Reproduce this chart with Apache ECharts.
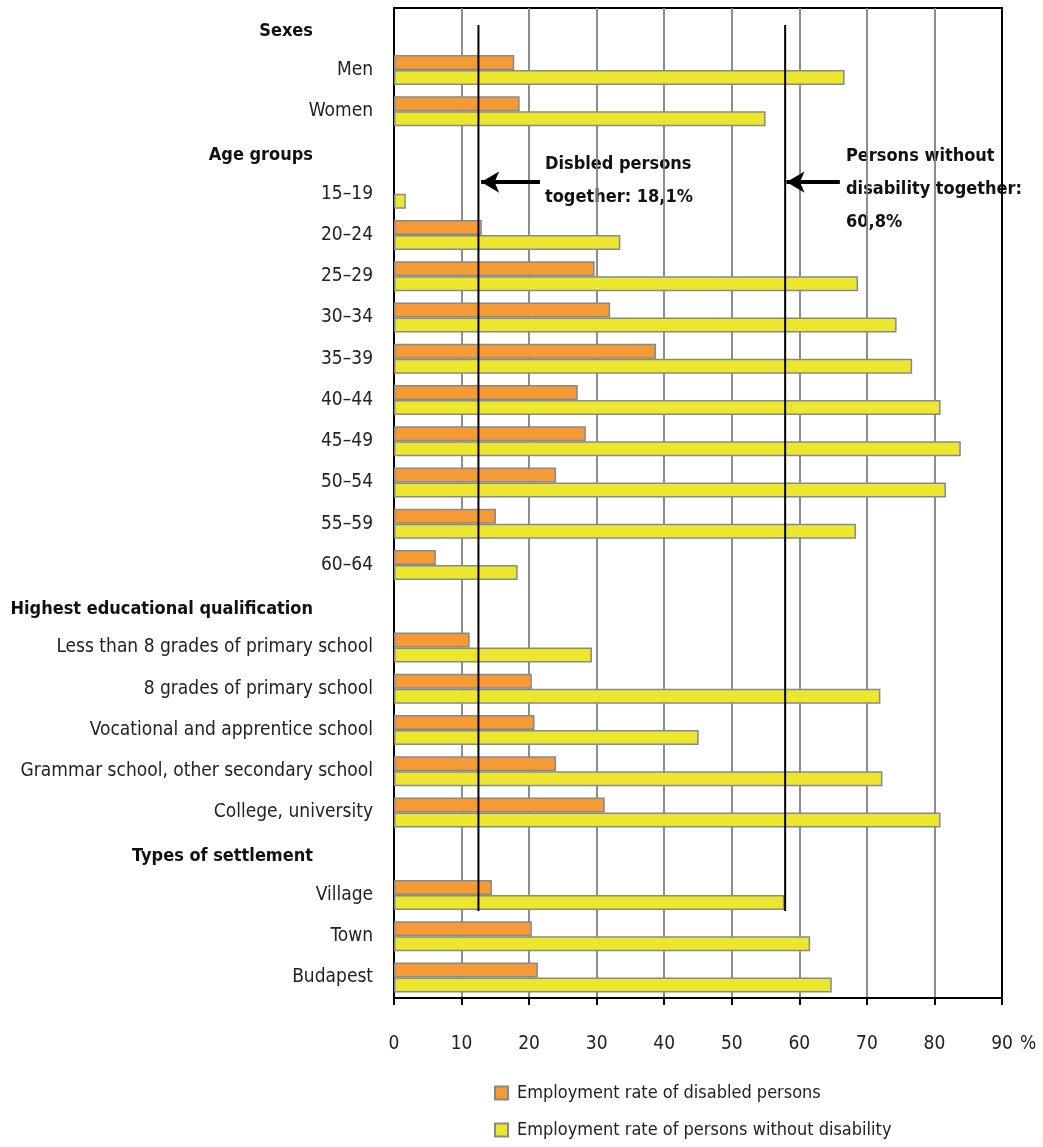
<!DOCTYPE html>
<html>
<head>
<meta charset="utf-8">
<script src="https://cdn.jsdelivr.net/npm/echarts@6/dist/echarts.min.js"></script>
<style>
html,body{margin:0;padding:0;background:#fff;}
#chart{width:1043px;height:1147px;}
</style>
</head>
<body>
<div id="chart"></div>
<script>
var categories = ['Sexes','Men','Women','Age groups','15–19','20–24','25–29','30–34','35–39','40–44','45–49','50–54','55–59','60–64','Highest educational qualification','Less than 8 grades of primary school','8 grades of primary school','Vocational and apprentice school','Grammar school, other secondary school','College, university','Types of settlement','Village','Town','Budapest'];
var headers = ['Sexes','Age groups','Highest educational qualification','Types of settlement'];
var disabledRate = [null,17.8,18.6,null,null,13.0,29.7,32.0,38.8,27.2,28.4,24.0,15.1,6.2,null,11.2,20.4,20.8,24.0,31.2,null,14.5,20.4,21.3];
var nonDisabledRate = [null,66.7,55.0,null,1.75,33.5,68.7,74.4,76.7,80.9,83.9,81.7,68.4,18.3,null,29.3,72.0,45.1,72.3,80.9,null,57.8,61.6,64.8];
var xTicks = [0,10,20,30,40,50,60,70,80,90];
var seriesNames = ['Employment rate of disabled persons','Employment rate of persons without disability'];
// reference lines as drawn in the picture (x value, row span)
var refLineDisabled = 12.5;
var refLineNonDisabled = 57.9;
var refLineRowSpan = [0.41, 21.89];
var arrowRow = 4.22;
var arrowDisabled = [21.6, 12.9];
var arrowNonDisabled = [66.0, 58.1];

var FONT = "'DejaVu Sans Condensed','Liberation Sans Narrow',sans-serif";
var chart = echarts.init(document.getElementById('chart'));
var barBorder = {borderColor:'#868a8c', borderWidth:1.5};
var gridColors = xTicks.map(function(t, i){ return (i === 0 || i === xTicks.length - 1) ? '#000' : '#7e8284'; });

chart.setOption({
  animation:false,
  textStyle:{fontFamily:FONT},
  grid:{left:394, right:41, top:8, bottom:149, show:true, borderColor:'#000', borderWidth:2, backgroundColor:'transparent'},
  legend:{
    orient:'vertical', left:489, top:1079, itemWidth:13, itemHeight:13, itemGap:19,
    icon:'rect',
    textStyle:{fontFamily:FONT, fontSize:18, color:'#222', padding:[0,0,0,4]},
    data:seriesNames
  },
  xAxis:{
    type:'value', min:0, max:90, interval:10,
    axisLine:{show:true, onZero:false, lineStyle:{color:'#000', width:2}},
    axisTick:{show:true, length:7, lineStyle:{color:'#000', width:2}},
    splitLine:{show:true, lineStyle:{color:gridColors, width:1.8}},
    axisLabel:{margin:37, fontSize:19, color:'#222', fontFamily:FONT}
  },
  yAxis:[{
    type:'category', data:categories, inverse:true,
    axisLine:{show:true, lineStyle:{color:'#000', width:2}},
    axisTick:{show:false},
    axisLabel:{
      margin:21, fontSize:19, color:'#222', fontFamily:FONT,
      formatter:function(v){ return headers.indexOf(v)>=0 ? '{h|'+v+'}' : '{n|'+v+'}'; },
      rich:{
        h:{fontWeight:'bold', fontSize:18, fontFamily:FONT, color:'#111', padding:[6,60,0,0]},
        n:{fontSize:19, fontFamily:FONT, color:'#222'}
      }
    }
  },{
    type:'value', inverse:true, min:0, max:24, show:false
  }],
  series:[{
    name:seriesNames[0], type:'bar', data:disabledRate,
    barWidth:15, barGap:'0%',
    itemStyle:Object.assign({color:'#f59a35'}, barBorder)
  },{
    name:seriesNames[1], type:'bar', data:nonDisabledRate,
    barWidth:15, barGap:'0%',
    itemStyle:Object.assign({color:'#ece72d'}, barBorder)
  },{
    name:'refDisabled', type:'line', yAxisIndex:1, symbol:'none', silent:true,
    data:[[refLineDisabled, refLineRowSpan[0]],[refLineDisabled, refLineRowSpan[1]]],
    lineStyle:{color:'#000', width:2},
    markLine:{silent:true, symbol:['none','arrow'], symbolSize:[16,18],
      lineStyle:{color:'#000', width:4, type:'solid'}, label:{show:false},
      data:[[{coord:[arrowDisabled[0], arrowRow]},{coord:[arrowDisabled[1], arrowRow]}]]}
  },{
    name:'refNonDisabled', type:'line', yAxisIndex:1, symbol:'none', silent:true,
    data:[[refLineNonDisabled, refLineRowSpan[0]],[refLineNonDisabled, refLineRowSpan[1]]],
    lineStyle:{color:'#000', width:2},
    markLine:{silent:true, symbol:['none','arrow'], symbolSize:[16,18],
      lineStyle:{color:'#000', width:4, type:'solid'}, label:{show:false},
      data:[[{coord:[arrowNonDisabled[0], arrowRow]},{coord:[arrowNonDisabled[1], arrowRow]}]]}
  }],
  graphic:[
    {type:'text', left:545, top:148, style:{text:'Disbled persons\ntogether: 18,1%', font:'bold 18px '+FONT, fill:'#111', lineHeight:33}},
    {type:'text', left:846, top:140, style:{text:'Persons without\ndisability together:\n60,8%', font:'bold 18px '+FONT, fill:'#111', lineHeight:33}},
    {type:'text', left:1020, top:1035, style:{text:'%', font:'19px '+FONT, fill:'#222'}}
  ]
});
</script>
</body>
</html>
